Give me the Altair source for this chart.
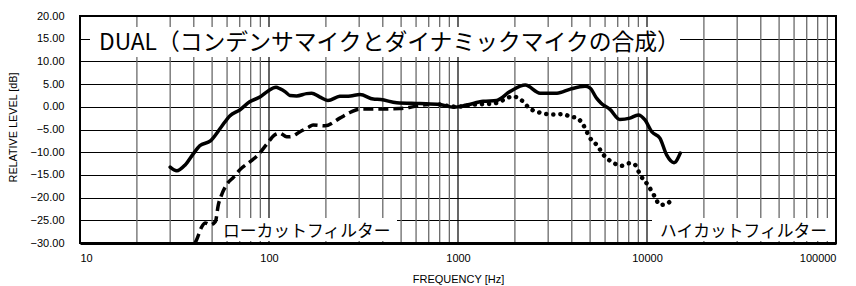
import altair as alt
import pandas as pd

# ---- data ----
dual_f = [30, 32.5, 36, 40, 43, 49, 56, 62, 70, 79, 90, 99, 109, 114, 122, 129, 140, 158, 168, 185,
          205, 237, 270, 303, 356, 390, 474, 629, 800, 950, 1110, 1360, 1600, 1890, 2270, 2720, 3340,
          3930, 4700, 5000, 5410, 5720, 6350, 7180, 8120, 8990, 9760, 10600, 11700, 12700, 13900, 15000]
dual_db = [-13.3, -14.1, -12.8, -10.2, -8.6, -7.5, -4.4, -2.0, -0.7, 1.1, 2.2, 3.5, 4.3, 4.0, 3.3, 2.5,
           2.4, 2.9, 3.0, 2.2, 1.4, 2.3, 2.4, 2.7, 1.7, 1.6, 0.9, 0.7, 0.5, -0.1, 0.4, 1.2, 1.4, 3.4,
           4.8, 3.0, 3.0, 3.9, 4.5, 4.1, 1.9, 0.8, -0.5, -2.8, -2.5, -1.8, -2.9, -5.5, -6.9, -10.6,
           -12.3, -10.2]

low_f = [40.6, 41.4, 44, 46, 49, 52, 54, 56, 60, 65, 70, 80, 88, 97, 107, 114, 124, 129, 146, 162,
         171, 198, 237, 270, 303, 386, 492, 560, 630, 700]
low_db = [-30.0, -29.3, -26.5, -25.6, -26.0, -25.3, -21.5, -19.5, -17.0, -15.5, -13.9, -12.0, -10.5,
          -8.3, -6.2, -5.8, -6.6, -6.6, -5.5, -4.5, -4.0, -4.2, -2.5, -1.2, -0.5, -0.5, -0.4, -0.1,
          0.3, 0.5]

high_f = [800, 1000, 1100, 1300, 1540, 1740, 1950, 2160, 2400, 2620, 2720, 3190, 3600, 3930, 4240,
          4600, 5000, 5420, 5950, 6680, 7290, 8120, 8650, 9200, 10100, 11000, 11700, 12700, 13200]
high_db = [0.5, 0.0, 0.3, 0.55, 0.7, 1.5, 2.3, 1.5, -0.4, -1.1, -1.3, -1.7, -1.6, -2.2, -2.4, -4.0,
           -6.9, -8.4, -10.8, -12.4, -13.0, -12.4, -12.8, -15.0, -17.2, -19.8, -21.6, -21.4, -20.9]

y_ticks = [-30, -25, -20, -15, -10, -5, 0, 5, 10, 15, 20]
x_labels = [10, 100, 1000, 10000, 100000]
minor_f = [20, 30, 40, 50, 60, 70, 80, 90,
           200, 300, 400, 500, 600, 700, 800, 900,
           2000, 3000, 4000, 5000, 6000, 7000, 8000, 9000,
           20000, 30000, 40000, 50000, 60000, 70000, 80000, 90000]
major_f = [100, 1000, 10000]

title_text = ["DUAL（コンデンサマイクとダイナミックマイクの合成）"]
low_text = ["ローカットフィルター"]
high_text = ["ハイカットフィルター"]

W, H = 756, 227
LABEL_FONT = "Liberation Sans"
JP_FONT = "Noto Sans CJK JP"

xscale = alt.Scale(type="log", domain=[10, 100000], nice=False)
yscale = alt.Scale(domain=[-30, 20], nice=False, zero=False)

x_axis = alt.Axis(values=x_labels, format="d", grid=False, ticks=False,
                  labelFontSize=11, labelFont=LABEL_FONT, labelColor="black", labelPadding=9,
                  domainColor="black", domainWidth=3,
                  title="FREQUENCY [Hz]", titleFont=LABEL_FONT, titleFontSize=11,
                  titleFontWeight="normal", titleColor="black", titleY=36.5, titleBaseline="middle")
y_axis = alt.Axis(values=y_ticks, format=".2f", grid=True, gridColor="black", gridWidth=1,
                  ticks=False, domain=False, labelFontSize=11, labelFont=LABEL_FONT,
                  labelColor="black", labelPadding=16,
                  title="RELATIVE LEVEL [dB]", titleFont=LABEL_FONT, titleFontSize=10.8,
                  titleFontWeight="normal", titleColor="black", titleX=-67, titleY=111,
                  titleAlign="center", titleBaseline="middle", titleAngle=270)

X = alt.X("f:Q", scale=xscale, axis=x_axis)
Y = alt.Y("db:Q", scale=yscale, axis=y_axis)

minor_df = pd.DataFrame({"f": minor_f})
major_df = pd.DataFrame({"f": major_f})
grid_minor = alt.Chart(minor_df).mark_rule(color="#6a6a6a", strokeWidth=1.3).encode(x=X)
grid_major = alt.Chart(major_df).mark_rule(color="black", strokeWidth=1.2).encode(x=X)

one = pd.DataFrame({"k": [0]})
box_title = alt.Chart(one).mark_rect(color="white").encode(
    x=alt.value(10), x2=alt.value(600), y=alt.value(11), y2=alt.value(41))
box_low = alt.Chart(one).mark_rect(color="white").encode(
    x=alt.value(138), x2=alt.value(317), y=alt.value(202), y2=alt.value(225))
box_high = alt.Chart(one).mark_rect(color="white").encode(
    x=alt.value(572), x2=alt.value(755), y=alt.value(202), y2=alt.value(225))

txt_title = alt.Chart(pd.DataFrame({"t": title_text})).mark_text(
    font=JP_FONT, fontSize=22.8, align="left", baseline="alphabetic", color="black").encode(
    x=alt.value(19), y=alt.value(34), text="t:N")
txt_low = alt.Chart(pd.DataFrame({"t": low_text})).mark_text(
    font=JP_FONT, fontSize=16.8, align="left", baseline="alphabetic", color="black").encode(
    x=alt.value(143), y=alt.value(221), text="t:N")
txt_high = alt.Chart(pd.DataFrame({"t": high_text})).mark_text(
    font=JP_FONT, fontSize=16.8, align="left", baseline="alphabetic", color="black").encode(
    x=alt.value(580), y=alt.value(221), text="t:N")

dual = alt.Chart(pd.DataFrame({"f": dual_f, "db": dual_db})).mark_line(
    color="black", strokeWidth=3.5, interpolate="monotone", strokeCap="round", strokeJoin="round"
).encode(x=X, y=Y)
low = alt.Chart(pd.DataFrame({"f": low_f, "db": low_db})).mark_line(
    color="black", strokeWidth=3.5, interpolate="monotone", strokeDash=[10, 5]
).encode(x=X, y=Y)
high = alt.Chart(pd.DataFrame({"f": high_f, "db": high_db})).mark_line(
    color="black", strokeWidth=4.5, interpolate="monotone", strokeDash=[0.1, 7], strokeCap="round"
).encode(x=X, y=Y)

frame = alt.Chart(one).mark_rect(filled=False, stroke="black", strokeWidth=2).encode(
    x=alt.value(0), x2=alt.value(W), y=alt.value(0), y2=alt.value(H))

chart = alt.layer(
    grid_minor, grid_major, box_title, box_low, box_high,
    txt_title, txt_low, txt_high, low, high, dual, frame
).properties(
    width=W, height=H,
    autosize=alt.AutoSizeParams(type="none"),
    padding={"left": 72, "top": 8, "right": 12, "bottom": 42},
).configure_view(stroke=None).configure(background="white")

chart.save("out.html", embed_options={"renderer": "svg", "actions": False})
